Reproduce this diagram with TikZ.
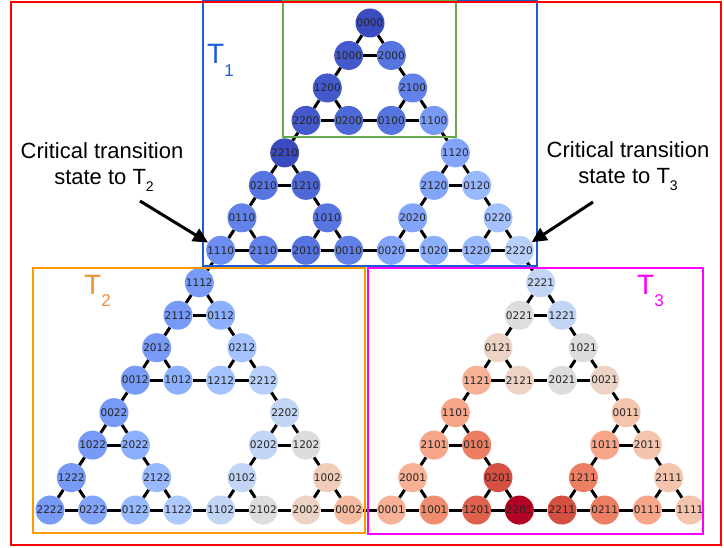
\documentclass[tikz,border=0pt]{standalone}
\usepackage{fontspec}
\setmainfont{Liberation Sans}
\newfontfamily\nodefont{DejaVu Sans}
\usetikzlibrary{backgrounds,arrows.meta}
\makeatletter
\newcommand\IfNodeThere[2]{\@ifundefined{pgf@sh@ns@#1}{}{#2}}
\makeatother
\definecolor{cw0}{RGB}{59,76,192}
\definecolor{cw1}{RGB}{68,90,204}
\definecolor{cw2}{RGB}{77,104,215}
\definecolor{cw3}{RGB}{87,117,225}
\definecolor{cw4}{RGB}{98,130,234}
\definecolor{cw5}{RGB}{108,142,241}
\definecolor{cw6}{RGB}{119,154,247}
\definecolor{cw7}{RGB}{130,165,251}
\definecolor{cw8}{RGB}{141,176,254}
\definecolor{cw9}{RGB}{152,185,255}
\definecolor{cw10}{RGB}{163,194,255}
\definecolor{cw11}{RGB}{174,201,253}
\definecolor{cw12}{RGB}{184,208,249}
\definecolor{cw13}{RGB}{194,213,244}
\definecolor{cw14}{RGB}{204,217,238}
\definecolor{cw15}{RGB}{213,219,230}
\definecolor{cw16}{RGB}{221,221,221}
\definecolor{cw17}{RGB}{229,216,209}
\definecolor{cw18}{RGB}{236,211,197}
\definecolor{cw19}{RGB}{241,204,184}
\definecolor{cw20}{RGB}{245,196,172}
\definecolor{cw21}{RGB}{247,187,160}
\definecolor{cw22}{RGB}{247,177,148}
\definecolor{cw23}{RGB}{247,166,137}
\definecolor{cw24}{RGB}{244,154,123}
\definecolor{cw25}{RGB}{241,141,111}
\definecolor{cw26}{RGB}{236,127,99}
\definecolor{cw27}{RGB}{229,112,88}
\definecolor{cw28}{RGB}{222,96,77}
\definecolor{cw29}{RGB}{213,80,66}
\definecolor{cw30}{RGB}{203,62,56}
\definecolor{cw31}{RGB}{192,40,47}
\definecolor{cw32}{RGB}{180,4,38}
\definecolor{frRed}{RGB}{255,0,0}
\definecolor{frBlue}{RGB}{28,92,212}
\definecolor{frGreen}{RGB}{106,168,79}
\definecolor{frOrange}{RGB}{255,153,0}
\definecolor{frMagenta}{RGB}{255,0,255}
\definecolor{txtOrange}{RGB}{236,145,56}
\begin{document}
\begin{tikzpicture}[x=1pt,y=-1pt,
  hn/.style={circle,minimum size=29pt,inner sep=0pt,
    font=\nodefont\fontsize{10.5}{10.5}\selectfont,text=black!85},
  edge/.style={line width=3pt,black},
  frame/.style={line width=2.5pt},
  bigtxt/.style={font=\fontsize{22}{26}\selectfont,anchor=base,inner sep=0pt},
  tlabel/.style={font=\fontsize{28}{28}\selectfont,anchor=base west,inner sep=0pt},
  pointer/.style={line width=3pt,black,-{Triangle[length=15pt,width=14pt]}}]
\useasboundingbox (0,0) rectangle (724,548);
% nodes
\foreach \nr/\nk/\nl/\nc in {
0/0/0000/0, 1/0/1000/1, 1/1/2000/3, 2/0/1200/1, 2/2/2100/4,
3/0/2200/1, 3/1/0200/2, 3/2/0100/3, 3/3/1100/6,
4/0/2210/0, 4/4/1120/7,
5/0/0210/3, 5/1/1210/2, 5/4/2120/7, 5/5/0120/9,
6/0/0110/4, 6/2/1010/3, 6/4/2020/7, 6/6/0220/10,
7/0/1110/5, 7/1/2110/4, 7/2/2010/3, 7/3/0010/4, 7/4/0020/7, 7/5/1020/8, 7/6/1220/9, 7/7/2220/12,
8/0/1112/6, 9/0/2112/6, 9/1/0112/8, 10/0/2012/6, 10/2/0212/10,
11/0/0012/6, 11/1/1012/8, 11/2/1212/10, 11/3/2212/12,
12/0/0022/6, 12/4/2202/13,
13/0/1022/6, 13/1/2022/8, 13/4/0202/13, 13/5/1202/16,
14/0/1222/6, 14/2/2122/9, 14/4/0102/13, 14/6/1002/19,
15/0/2222/6, 15/1/0222/7, 15/2/0122/9, 15/3/1122/11, 15/4/1102/13, 15/5/2102/16, 15/6/2002/18, 15/7/0002/21,
8/8/2221/13, 9/8/0221/16, 9/9/1221/13, 10/8/0121/18, 10/10/1021/16,
11/8/1121/22, 11/9/2121/18, 11/10/2021/16, 11/11/0021/18,
12/8/1101/23, 12/12/0011/20,
13/8/2101/23, 13/9/0101/26, 13/12/1011/23, 13/13/2011/20,
14/8/2001/22, 14/10/0201/29, 14/12/1211/26, 14/14/2111/20,
15/8/0001/22, 15/9/1001/25, 15/10/1201/28, 15/11/2201/32, 15/12/2211/29, 15/13/0211/26, 15/14/0111/23, 15/15/1111/20}{
  \node[hn,fill=cw\nc] (n\nr-\nk) at ({370+(\nk-\nr/2)*42.67},{23+\nr*32.47}) {\nl};
}
% edges
\begin{scope}[on background layer]
\foreach \nr in {0,...,15}{
  \foreach \nk in {0,...,\nr}{
    \pgfmathtruncatemacro\nkp{\nk+1}
    \pgfmathtruncatemacro\nrp{\nr+1}
    \IfNodeThere{n\nr-\nk}{%
      \IfNodeThere{n\nr-\nkp}{\draw[edge] (n\nr-\nk) -- (n\nr-\nkp);}%
      \IfNodeThere{n\nrp-\nk}{\draw[edge] (n\nr-\nk) -- (n\nrp-\nk);}%
      \IfNodeThere{n\nrp-\nkp}{\draw[edge] (n\nr-\nk) -- (n\nrp-\nkp);}%
    }
  }
}
\end{scope}
% frames
\draw[frame,frBlue] (203,0.5) rectangle (537,266);
\draw[frame,frGreen,line width=2pt] (283,1) rectangle (456,137);
\draw[frame,frOrange] (33,268) rectangle (365,533);
\draw[frame,frMagenta] (368,268) rectangle (703,534);
\draw[frame,frRed] (11,2) rectangle (721,545);
% T labels
\node[tlabel,text=frBlue] (t1) at (207,64) {T\raisebox{-13pt}{\fontsize{17}{17}\selectfont 1}};
\node[tlabel,text=txtOrange] (t2) at (84,295) {T\raisebox{-12pt}{\fontsize{17}{17}\selectfont 2}};
\node[tlabel,text=frMagenta] (t3) at (637,295) {T\raisebox{-12pt}{\fontsize{17}{17}\selectfont 3}};
% critical transition texts
\node[bigtxt] (l1) at (102,159) {Critical transition};
\node[bigtxt] (l2) at (104,185) {state to T\raisebox{-7pt}{\fontsize{14}{14}\selectfont 2}};
\node[bigtxt] (r1) at (628,158) {Critical transition};
\node[bigtxt] (r2) at (628,184) {state to T\raisebox{-7pt}{\fontsize{14}{14}\selectfont 3}};
% arrows
\coordinate (la) at (140,201);
\coordinate (ra) at (593,202);
\draw[pointer] (la) -- (n7-0);
\draw[pointer] (ra) -- (n7-7);
\end{tikzpicture}
\end{document}
